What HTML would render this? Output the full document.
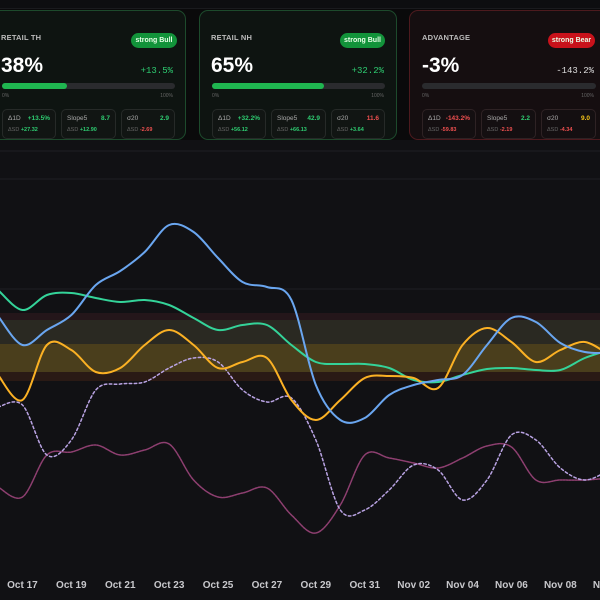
<!DOCTYPE html>
<html><head><meta charset="utf-8"><style>
*{box-sizing:border-box;margin:0;padding:0}
body{width:600px;height:600px;background:#0a0a0b;overflow:hidden;position:relative;font-family:"Liberation Sans",sans-serif;color:#ddd}
.topstrip{position:absolute;left:0;top:0;width:600px;height:9px;background:#0d0e10;border-bottom:1px solid #1a1b1e}
.card{position:absolute;top:10px;height:130px;border-radius:9px;border:1px solid #1d4a2c;background:#0e1411}
.card.bear{border-color:#4d1a1e;background:#150e10}
.title{position:absolute;top:22px;font-size:7.5px;font-weight:bold;color:#bbb;letter-spacing:.2px}
.badge{position:absolute;top:22px;height:15px;border-radius:8px;background:#12933a;color:#e8ffe8;font-size:7px;font-weight:bold;line-height:15px;text-align:center}
.bear .badge{background:#c8121b}
.big{position:absolute;top:43px;font-size:21px;font-weight:bold;color:#fff}
.chg{position:absolute;top:55px;font-family:"Liberation Mono",monospace;font-size:9px;color:#2ecc71;text-align:right}
.bar{position:absolute;top:72px;height:6px;border-radius:3px;background:#2a2b2e}
.fill{height:6px;border-radius:3px;background:#1fb650}
.pl{position:absolute;top:82px;font-size:5px;color:#666}
.sub{position:absolute;top:98px;height:30px;border:1px solid #262a28;border-radius:5px;background:#111513}
.bear .sub{border-color:#2e2224;background:#140f11}
.sub .l{position:absolute;left:5px;top:5px;font-size:6.5px;color:#aaa}
.sub .v{position:absolute;right:5px;top:5px;font-size:6.5px;font-weight:bold}
.sub .d{position:absolute;left:5px;top:17px;font-size:5.5px;color:#666}
.g{color:#2ecc71}.r{color:#f05050}.y{color:#f5c518}.w{color:#ccc}
svg{position:absolute;left:0;top:140px}
</style></head><body>
<div class="topstrip"></div>

<div class="card" style="left:-12px;width:198px">
 <div class="title" style="left:12px">RETAIL TH</div>
 <div class="badge" style="left:142px;width:46px">strong Bull</div>
 <div class="big" style="left:12px">38%</div>
 <div class="chg" style="right:12px">+13.5%</div>
 <div class="bar" style="left:13px;width:173px"><div class="fill" style="width:65px"></div></div>
 <div class="pl" style="left:13px">0%</div><div class="pl" style="right:12px">100%</div>
 <div class="sub" style="left:13px;width:54px"><span class="l">Δ1D</span><span class="v g">+13.5%</span><span class="d">ΔSD <b class="g">+27.32</b></span></div>
 <div class="sub" style="left:72px;width:55px"><span class="l">Slope5</span><span class="v g">8.7</span><span class="d">ΔSD <b class="g">+12.90</b></span></div>
 <div class="sub" style="left:132px;width:54px"><span class="l">σ20</span><span class="v g">2.9</span><span class="d">ΔSD <b class="r">-2.69</b></span></div>
</div>

<div class="card" style="left:199px;width:198px">
 <div class="title" style="left:11px">RETAIL NH</div>
 <div class="badge" style="left:140px;width:45px">strong Bull</div>
 <div class="big" style="left:11px">65%</div>
 <div class="chg" style="right:12px">+32.2%</div>
 <div class="bar" style="left:12px;width:173px"><div class="fill" style="width:112px"></div></div>
 <div class="pl" style="left:12px">0%</div><div class="pl" style="right:12px">100%</div>
 <div class="sub" style="left:12px;width:54px"><span class="l">Δ1D</span><span class="v g">+32.2%</span><span class="d">ΔSD <b class="g">+56.12</b></span></div>
 <div class="sub" style="left:71px;width:55px"><span class="l">Slope5</span><span class="v g">42.9</span><span class="d">ΔSD <b class="g">+66.13</b></span></div>
 <div class="sub" style="left:131px;width:54px"><span class="l">σ20</span><span class="v r">11.6</span><span class="d">ΔSD <b class="g">+3.64</b></span></div>
</div>

<div class="card bear" style="left:409px;width:200px">
 <div class="title" style="left:12px">ADVANTAGE</div>
 <div class="badge" style="left:138px;width:47px">strong Bear</div>
 <div class="big" style="left:12px">-3%</div>
 <div class="chg w" style="right:14px;color:#ddd">-143.2%</div>
 <div class="bar" style="left:12px;width:174px"></div>
 <div class="pl" style="left:12px">0%</div><div class="pl" style="right:14px">100%</div>
 <div class="sub" style="left:12px;width:54px"><span class="l">Δ1D</span><span class="v r">-143.2%</span><span class="d">ΔSD <b class="r">-59.83</b></span></div>
 <div class="sub" style="left:71px;width:55px"><span class="l">Slope5</span><span class="v g">2.2</span><span class="d">ΔSD <b class="r">-2.19</b></span></div>
 <div class="sub" style="left:131px;width:55px"><span class="l">σ20</span><span class="v y">9.0</span><span class="d">ΔSD <b class="r">-4.34</b></span></div>
</div>

<svg id="chart" width="600" height="460" viewBox="0 140 600 460"></svg>
<script>
const dates=["Oct 16","Oct 17","Oct 18","Oct 19","Oct 20","Oct 21","Oct 22","Oct 23","Oct 24","Oct 25","Oct 26","Oct 27","Oct 28","Oct 29","Oct 30","Oct 31","Nov 01","Nov 02","Nov 03","Nov 04","Nov 05","Nov 06","Nov 07","Nov 08","Nov 09","Nov 10"];
const tickLabels=["Oct 17","Oct 19","Oct 21","Oct 23","Oct 25","Oct 27","Oct 29","Oct 31","Nov 02","Nov 04","Nov 06","Nov 08","Nov 10"];
const blueSeries=[284,255,270,285,315,329,348,375,368,342,318,313,300,215,180,182,205,215,220,225,255,282,278,257,248,247];
const greenSeries=[310,290,305,307,302,298,300,295,282,270,275,275,255,238,236,236,232,220,218,225,231,232,230,230,242,250];
const orangeSeries=[225,200,255,250,228,232,255,270,255,232,238,242,200,180,200,222,224,222,212,255,272,258,238,250,258,245];
const lavenderSeries=[193,195,145,160,210,216,218,232,242,238,210,198,202,160,90,90,110,135,130,100,120,165,160,132,120,130];
const plumSeries=[113,103,145,148,155,145,150,156,120,103,107,112,85,67,95,145,142,137,132,142,154,153,120,120,120,122];
const bands=[[287,280,"#24161a"],[280,256,"#2a2922"],[256,228,"#4a3e1c"],[228,219,"#2a1a15"]];
const svg=document.getElementById('chart');
const NS="http://www.w3.org/2000/svg";
function xScale(i){return -2+i*24.45;}
function yScale(v){return 600-v;}
function mk(t,a){const e=document.createElementNS(NS,t);for(const k in a)e.setAttribute(k,a[k]);svg.appendChild(e);return e;}
const bg=mk('rect',{x:0,y:140,width:600,height:460,fill:'#111114'});


[151,179,289].forEach(function(y){const l=mk('line',{x1:0,x2:600,y1:y,y2:y,stroke:'#1f2023','stroke-width':1});

});
bands.forEach(function(b){const r=mk('rect',{x:0,y:yScale(b[0]),width:600,height:b[0]-b[1],fill:b[2]});

});
function path(arr){let p=[];for(let i=0;i<arr.length;i++)p.push([xScale(i),yScale(arr[i])]);
let d="M"+p[0][0]+","+p[0][1];
for(let i=0;i<p.length-1;i++){const p0=p[i-1]||p[i],p1=p[i],p2=p[i+1],p3=p[i+2]||p2;
const c1x=p1[0]+(p2[0]-p0[0])/6,c1y=p1[1]+(p2[1]-p0[1])/6,c2x=p2[0]-(p3[0]-p1[0])/6,c2y=p2[1]-(p3[1]-p1[1])/6;
d+=" C"+c1x+","+c1y+" "+c2x+","+c2y+" "+p2[0]+","+p2[1];}return d;}
function line(arr,color,w,dash,name){const e=mk('path',{d:path(arr),fill:'none',stroke:color,'stroke-width':w,'stroke-dasharray':dash||'none','stroke-linecap':'round'});

}
line(plumSeries,'#8e3f70',1.5,'2 1','plum-series-line');
line(lavenderSeries,'#b9a3e3',1.5,'2.5 2.5','lavender-series-line');
line(greenSeries,'#34d399',2,null,'green-series-line');
line(orangeSeries,'#fbb124',2,null,'orange-series-line');
line(blueSeries,'#6aa6f0',2,null,'blue-series-line');
tickLabels.forEach(function(t){const i=dates.indexOf(t);const e=mk('text',{x:xScale(i),y:588,fill:'#c8c8cc','font-size':10,'font-weight':'bold','text-anchor':'middle','font-family':'Liberation Sans, sans-serif'});e.textContent=t;

});
</script>
</body></html>
